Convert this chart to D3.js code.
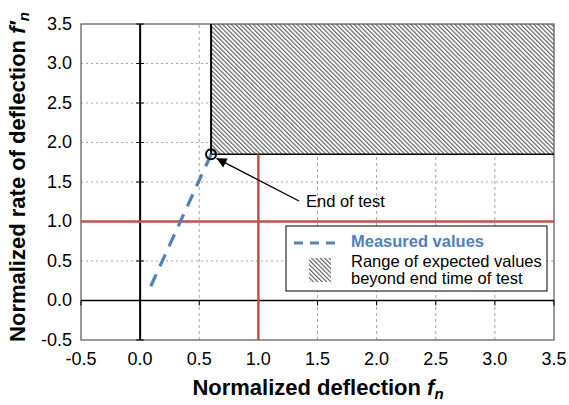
<!DOCTYPE html>
<html>
<head>
<meta charset="utf-8">
<script src="https://cdn.jsdelivr.net/npm/d3@7"></script>
<style>
  html, body { margin: 0; padding: 0; background: #fff; }
  svg { display: block; font-family: "Liberation Sans", Arial, sans-serif; }
</style>
</head>
<body>
<svg id="chart" width="569" height="405"></svg>
<script>
// Tick values for both axes
const xTickValues = [-0.5, 0.0, 0.5, 1.0, 1.5, 2.0, 2.5, 3.0, 3.5];
const yTickValues = [-0.5, 0.0, 0.5, 1.0, 1.5, 2.0, 2.5, 3.0, 3.5];

// Measured normalized deflection / rate of deflection
const measuredDeflection = [0.09, 0.6];
const measuredRate = [0.18, 1.85];

// Reference limits (normalized = 1)
const limitDeflection = 1.0;
const limitRate = 1.0;

// Legend entries
const legendLabels = ["Measured values", "Range of expected values", "beyond end time of test"];
const annotationText = "End of test";

const svg = d3.select("#chart");
const x = d3.scaleLinear().domain([-0.5, 3.5]).range([81, 554]);
const y = d3.scaleLinear().domain([-0.5, 3.5]).range([340, 24]);
const fmt = v => d3.format(".1f")(v).replace("\u2212", "-");

const blue = "#4f81bd";
const red = "#c0504d";

// Hatch pattern for the expected range
const defs = svg.append("defs");
const pat = defs.append("pattern")
  .attr("id", "hatch")
  .attr("patternUnits", "userSpaceOnUse")
  .attr("width", 3.1).attr("height", 3.1)
  .attr("patternTransform", "rotate(-45)");
pat.append("rect").attr("width", 3.1).attr("height", 3.1).attr("fill", "#fff");
pat.append("line")
  .attr("x1", 0.6).attr("y1", 0).attr("x2", 0.6).attr("y2", 3.1)
  .attr("stroke", "#5a5a5a").attr("stroke-width", 1.1);

const arrowMarker = defs.append("marker")
  .attr("id", "arrow")
  .attr("viewBox", "0 0 10 10")
  .attr("refX", 10).attr("refY", 5)
  .attr("markerWidth", 14).attr("markerHeight", 10)
  .attr("markerUnits", "userSpaceOnUse")
  .attr("orient", "auto");
arrowMarker.append("path").attr("d", "M0,0 L10,5 L0,10 Z").attr("fill", "#000");

const [x0, x1] = x.range();
const [y0, y1] = y.range();

// Gridlines
svg.append("g").selectAll("line")
  .data(yTickValues.filter(v => v !== 0 && v !== -0.5 && v !== 3.5))
  .join("line")
  .attr("x1", x0).attr("x2", x1)
  .attr("y1", d => y(d)).attr("y2", d => y(d))
  .attr("stroke", "#a6a6a6").attr("stroke-width", 1)
  .attr("stroke-dasharray", "2,3");
svg.append("g").selectAll("line")
  .data(xTickValues.filter(v => v !== 0 && v !== -0.5 && v !== 3.5))
  .join("line")
  .attr("x1", d => x(d)).attr("x2", d => x(d))
  .attr("y1", y0).attr("y2", y1)
  .attr("stroke", "#a6a6a6").attr("stroke-width", 1)
  .attr("stroke-dasharray", "3,3");

// Expected range beyond end of test
const endX = measuredDeflection[measuredDeflection.length - 1];
const endY = measuredRate[measuredRate.length - 1];
svg.append("rect")
  .attr("x", x(endX)).attr("y", y(3.5))
  .attr("width", x(3.5) - x(endX)).attr("height", y(endY) - y(3.5))
  .attr("fill", "url(#hatch)");

// Plot border
svg.append("rect")
  .attr("x", x0).attr("y", y1)
  .attr("width", x1 - x0).attr("height", y0 - y1)
  .attr("fill", "none").attr("stroke", "#555").attr("stroke-width", 1.2);

// Zero axes with ticks
svg.append("line")
  .attr("x1", x(0)).attr("x2", x(0)).attr("y1", y0).attr("y2", y1)
  .attr("stroke", "#000").attr("stroke-width", 2);
svg.append("line")
  .attr("x1", x0).attr("x2", x1).attr("y1", y(0)).attr("y2", y(0))
  .attr("stroke", "#000").attr("stroke-width", 1.5);
svg.append("g").selectAll("line")
  .data(yTickValues)
  .join("line")
  .attr("x1", x(0) - 4).attr("x2", x(0) + 4)
  .attr("y1", d => y(d)).attr("y2", d => y(d))
  .attr("stroke", "#000").attr("stroke-width", 1);
svg.append("g").selectAll("line")
  .data(xTickValues)
  .join("line")
  .attr("x1", d => x(d)).attr("x2", d => x(d))
  .attr("y1", y(0)).attr("y2", y(0) + 5)
  .attr("stroke", "#000").attr("stroke-width", 1);

// Boundary lines of the expected range
svg.append("line")
  .attr("x1", x(endX)).attr("x2", x(endX)).attr("y1", y(3.5)).attr("y2", y(endY))
  .attr("stroke", "#000").attr("stroke-width", 2);
svg.append("line")
  .attr("x1", x(endX)).attr("x2", x(3.5)).attr("y1", y(endY)).attr("y2", y(endY))
  .attr("stroke", "#000").attr("stroke-width", 1.5);

// Reference limits
svg.append("line")
  .attr("x1", x0).attr("x2", x1).attr("y1", y(limitRate)).attr("y2", y(limitRate))
  .attr("stroke", red).attr("stroke-width", 2.5);
svg.append("line")
  .attr("x1", x(limitDeflection)).attr("x2", x(limitDeflection))
  .attr("y1", y0).attr("y2", y(endY))
  .attr("stroke", red).attr("stroke-width", 2.5);

// Measured values
const pts = measuredDeflection.map((d, i) => [d, measuredRate[i]]);
svg.append("path")
  .datum(pts)
  .attr("d", d3.line().x(d => x(d[0])).y(d => y(d[1])))
  .attr("fill", "none").attr("stroke", blue).attr("stroke-width", 3.2)
  .attr("stroke-dasharray", "13,9");

// End of test marker
svg.append("circle")
  .attr("cx", x(endX)).attr("cy", y(endY)).attr("r", 5)
  .attr("fill", "none").attr("stroke", "#000").attr("stroke-width", 2);

// Annotation
svg.append("line")
  .attr("x1", 299).attr("y1", 201)
  .attr("x2", x(endX) + 5.5).attr("y2", y(endY) + 4)
  .attr("stroke", "#000").attr("stroke-width", 1.4)
  .attr("marker-end", "url(#arrow)");
svg.append("text")
  .attr("x", 306).attr("y", 207)
  .attr("font-size", 16.5).attr("fill", "#000")
  .text(annotationText);

// Tick labels
svg.append("g").selectAll("text")
  .data(xTickValues)
  .join("text")
  .attr("x", d => x(d)).attr("y", 365)
  .attr("text-anchor", "middle").attr("font-size", 18)
  .text(fmt);
svg.append("g").selectAll("text")
  .data(yTickValues)
  .join("text")
  .attr("x", 72).attr("y", d => y(d) + 5.5)
  .attr("text-anchor", "end").attr("font-size", 18)
  .text(fmt);

// Axis titles
const xt = svg.append("text")
  .attr("x", 318).attr("y", 395)
  .attr("text-anchor", "middle").attr("font-size", 22).attr("font-weight", "bold");
xt.append("tspan").text("Normalized deflection ");
xt.append("tspan").attr("font-style", "italic").text("f");
xt.append("tspan").attr("font-style", "italic").attr("font-size", 15).attr("dy", 4).text("n");

const yt = svg.append("text")
  .attr("transform", `translate(25,${(y0 + y1) / 2 - 5}) rotate(-90)`)
  .attr("text-anchor", "middle").attr("font-size", 22).attr("font-weight", "bold");
yt.append("tspan").text("Normalized rate of deflection ");
yt.append("tspan").attr("font-style", "italic").text("f′");
yt.append("tspan").attr("font-style", "italic").attr("font-size", 15).attr("dy", 4).text("n");

// Legend
const lg = svg.append("g");
lg.append("rect")
  .attr("x", 286).attr("y", 226).attr("width", 261).attr("height", 65)
  .attr("fill", "#fff").attr("stroke", "#000").attr("stroke-width", 1);
lg.append("line")
  .attr("x1", 294).attr("x2", 338).attr("y1", 243).attr("y2", 243)
  .attr("stroke", blue).attr("stroke-width", 3.2).attr("stroke-dasharray", "9,7");
lg.append("text")
  .attr("x", 351).attr("y", 247)
  .attr("font-size", 16.5).attr("font-weight", "bold").attr("fill", blue)
  .text(legendLabels[0]);
lg.append("rect")
  .attr("x", 309).attr("y", 258).attr("width", 22).attr("height", 24)
  .attr("fill", "url(#hatch)");
lg.append("text")
  .attr("x", 351).attr("y", 267).attr("font-size", 16.5).text(legendLabels[1]);
lg.append("text")
  .attr("x", 351).attr("y", 284).attr("font-size", 16.5).text(legendLabels[2]);
</script>
</body>
</html>
